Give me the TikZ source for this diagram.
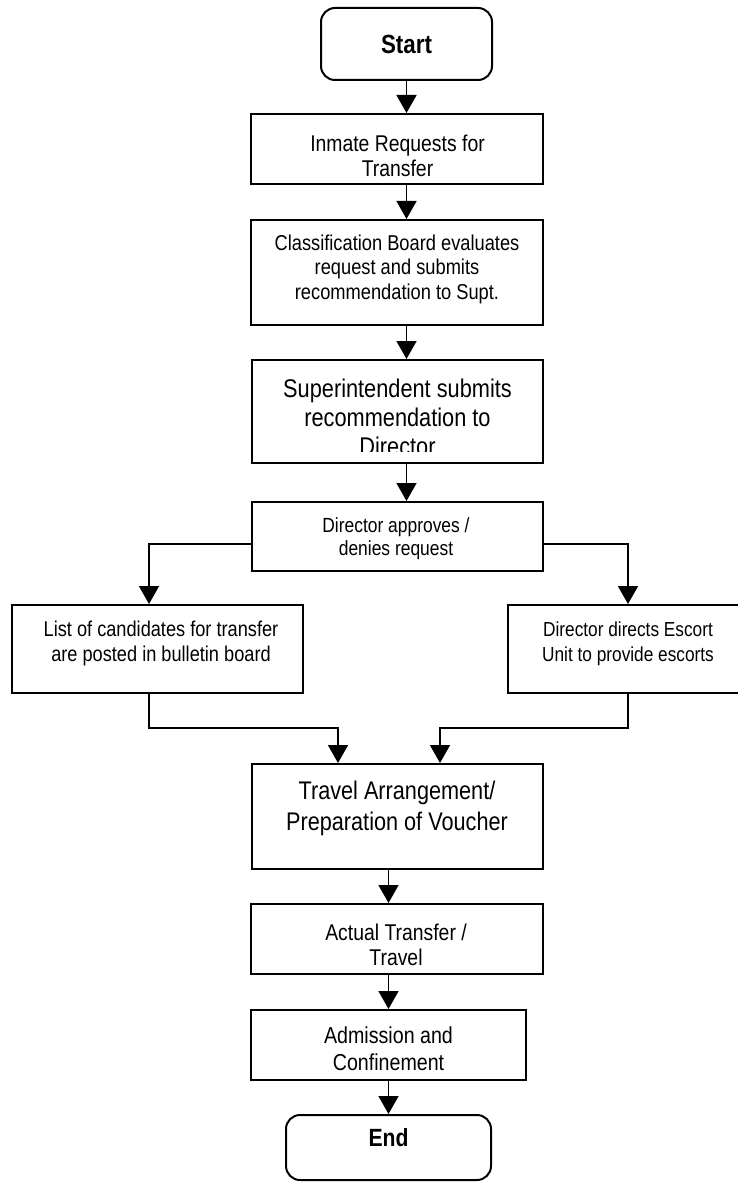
\documentclass[tikz,border=0pt]{standalone}
\usepackage{fontspec}
\setmainfont[FakeStretch=0.85]{Liberation Sans}
\usetikzlibrary{arrows.meta}
\newcommand{\fsz}[2]{\fontsize{#1pt}{#2pt}\selectfont}
\begin{document}
\begin{tikzpicture}[x=1pt,y=-1pt,
  box/.style={draw, line width=2pt, inner sep=0pt},
  term/.style={box, rounded corners=14pt},
  txt/.style={align=center, inner sep=0pt},
  arr/.style={line width=1.6pt, -{Triangle[width=20pt,length=18pt]}}]
\useasboundingbox (0,0) rectangle (737,1182);
% boxes
\node[term, minimum width=171pt, minimum height=72pt] (start) at (406.5,44) {};
\node[box, minimum width=292pt, minimum height=70pt] (b1) at (397,149) {};
\node[box, minimum width=292pt, minimum height=105pt] (b2) at (397,272.5) {};
\node[box, minimum width=291pt, minimum height=103pt] (b3) at (397.5,411.5) {};
\node[box, minimum width=291pt, minimum height=69pt] (b4) at (397.5,536.5) {};
\node[box, minimum width=291pt, minimum height=88pt] (b5) at (157.5,649) {};
\node[box, minimum width=240pt, minimum height=88pt] (b6) at (628,649) {};
\node[box, minimum width=291pt, minimum height=105pt] (b7) at (397.5,816.5) {};
\node[box, minimum width=292pt, minimum height=70pt] (b8) at (397,939) {};
\node[box, minimum width=275pt, minimum height=70pt] (b9) at (388.5,1045) {};
\node[term, minimum width=205pt, minimum height=65pt] (end) at (388.5,1147.5) {};
% texts
\node[txt, font=\bfseries\fsz{26.3}{30}] (tS) at (406.5,44) {Start};
\node[txt, font=\fsz{22.8}{25}] (t1) at (397.5,155.5) {Inmate Requests for\\Transfer};
\node[txt, font=\fsz{21.5}{24.5}] (t2) at (397,269) {Classification Board evaluates\\request and submits\\recommendation to Supt.};
\begin{scope}
\clip (252,360) rectangle (543,451);
\node[txt, font=\fsz{25.6}{29}] (t3) at (397.5,417) {Superintendent submits\\recommendation to\\Director};
\end{scope}
\node[txt, font=\fsz{20.5}{23}] (t4) at (396,538.5) {Director approves /\\denies request};
\node[txt, font=\fsz{21.4}{25}] (t5) at (161,643.5) {List of candidates for transfer\\are posted in bulletin board};
\node[txt, font=\fsz{20.3}{25}] (t6) at (628,643.5) {Director directs Escort\\Unit to provide escorts};
\node[txt, font=\fsz{25.5}{31}] (t7) at (397,808) {Travel Arrangement/\\Preparation of Voucher};
\node[txt, font=\fsz{22.8}{25}] (t8) at (396,944.5) {Actual Transfer /\\Travel};
\node[txt, font=\fsz{23.1}{27}] (t9) at (388.5,1048.5) {Admission and\\Confinement};
\node[txt, font=\bfseries\fsz{24.9}{28}] (tE) at (388.5,1138) {End};
% connectors
\draw[arr] (start.south) -- (start.south |- b1.north);
\draw[arr] (b1.south -| start.south) -- (b2.north -| start.south);
\draw[arr] (b2.south -| start.south) -- (b3.north -| start.south);
\draw[arr] (b3.south -| start.south) -- (b4.north -| start.south);
\draw[arr] ([yshift=-7.5pt]b4.west) -| ([xshift=-8.5pt]b5.north);
\draw[arr] ([yshift=-7.5pt]b4.east) -| (b6.north);
\draw[arr] ([xshift=-8.5pt]b5.south) -- ++(0,34) -| ([xshift=-59.5pt]b7.north);
\draw[arr] (b6.south) -- ++(0,34) -| ([xshift=42.5pt]b7.north);
\draw[arr] (b7.south -| b9.north) -- (b8.north -| b9.north);
\draw[arr] (b8.south -| b9.north) -- (b9.north);
\draw[arr] (b9.south) -- (end.north);
\end{tikzpicture}
\end{document}
